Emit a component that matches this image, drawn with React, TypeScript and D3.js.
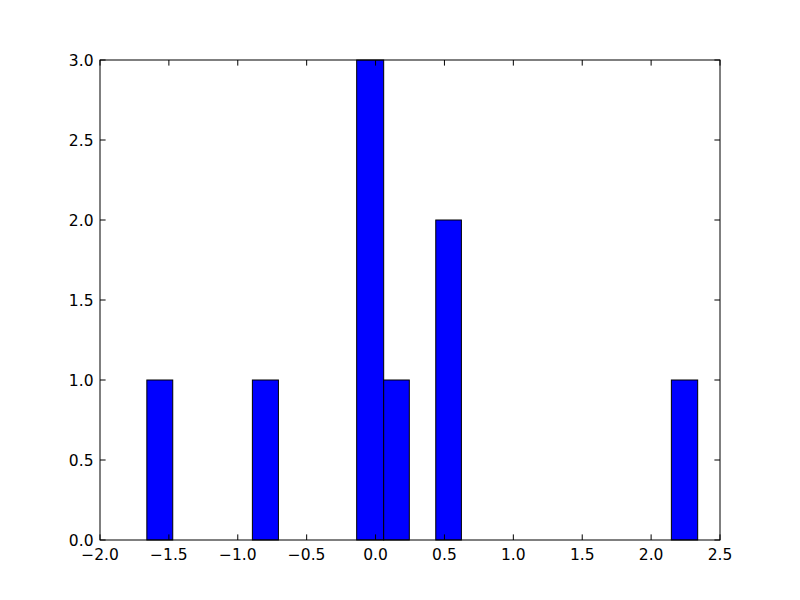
import React from "react";
import * as d3 from "d3";

const barLeft = [-1.660, -0.894, -0.137, 0.059, 0.437, 2.147];
const barRight = [-1.472, -0.705, 0.059, 0.245, 0.623, 2.338];
const counts = [1, 1, 3, 1, 2, 1];
const xTicks = [-2.0, -1.5, -1.0, -0.5, 0.0, 0.5, 1.0, 1.5, 2.0, 2.5];
const yTicks = [0.0, 0.5, 1.0, 1.5, 2.0, 2.5, 3.0];

const W = 800, H = 600;
const L = 100, R = 720, T = 60, B = 540;

export default function App() {
  const x = d3.scaleLinear().domain([-2.0, 2.5]).range([L, R]);
  const y = d3.scaleLinear().domain([0, 3.0]).range([B, T]);
  const fmt = (v: number) => v.toFixed(1).replace("-", "\u2212");
  const tl = 5.6;
  const font = "DejaVu Sans";
  const fs = 15.5;
  return (
    <svg width={W} height={H} style={{ position: "absolute", left: 0, top: 0, background: "#fff" }}>
      <rect x={0} y={0} width={W} height={H} fill="#fff" />
      {counts.map((c, i) => (
        <rect
          key={i}
          x={x(barLeft[i])}
          y={y(c)}
          width={x(barRight[i]) - x(barLeft[i])}
          height={y(0) - y(c)}
          fill="#0000ff"
          stroke="#000"
          strokeWidth={1}
        />
      ))}
      {xTicks.map((t, i) => (
        <g key={"x" + i}>
          <line x1={x(t)} x2={x(t)} y1={B} y2={B - tl} stroke="#000" />
          <line x1={x(t)} x2={x(t)} y1={T} y2={T + tl} stroke="#000" />
          <text x={x(t)} y={560} textAnchor="middle" fontFamily={font} fontSize={fs}>
            {fmt(t)}
          </text>
        </g>
      ))}
      {yTicks.map((t, i) => (
        <g key={"y" + i}>
          <line x1={L} x2={L + tl} y1={y(t)} y2={y(t)} stroke="#000" />
          <line x1={R} x2={R - tl} y1={y(t)} y2={y(t)} stroke="#000" />
          <text x={L - 6.5} y={y(t) + 5.6} textAnchor="end" fontFamily={font} fontSize={fs}>
            {fmt(t)}
          </text>
        </g>
      ))}
      <rect x={L} y={T} width={R - L} height={B - T} fill="none" stroke="#000" strokeWidth={1} />
    </svg>
  );
}
